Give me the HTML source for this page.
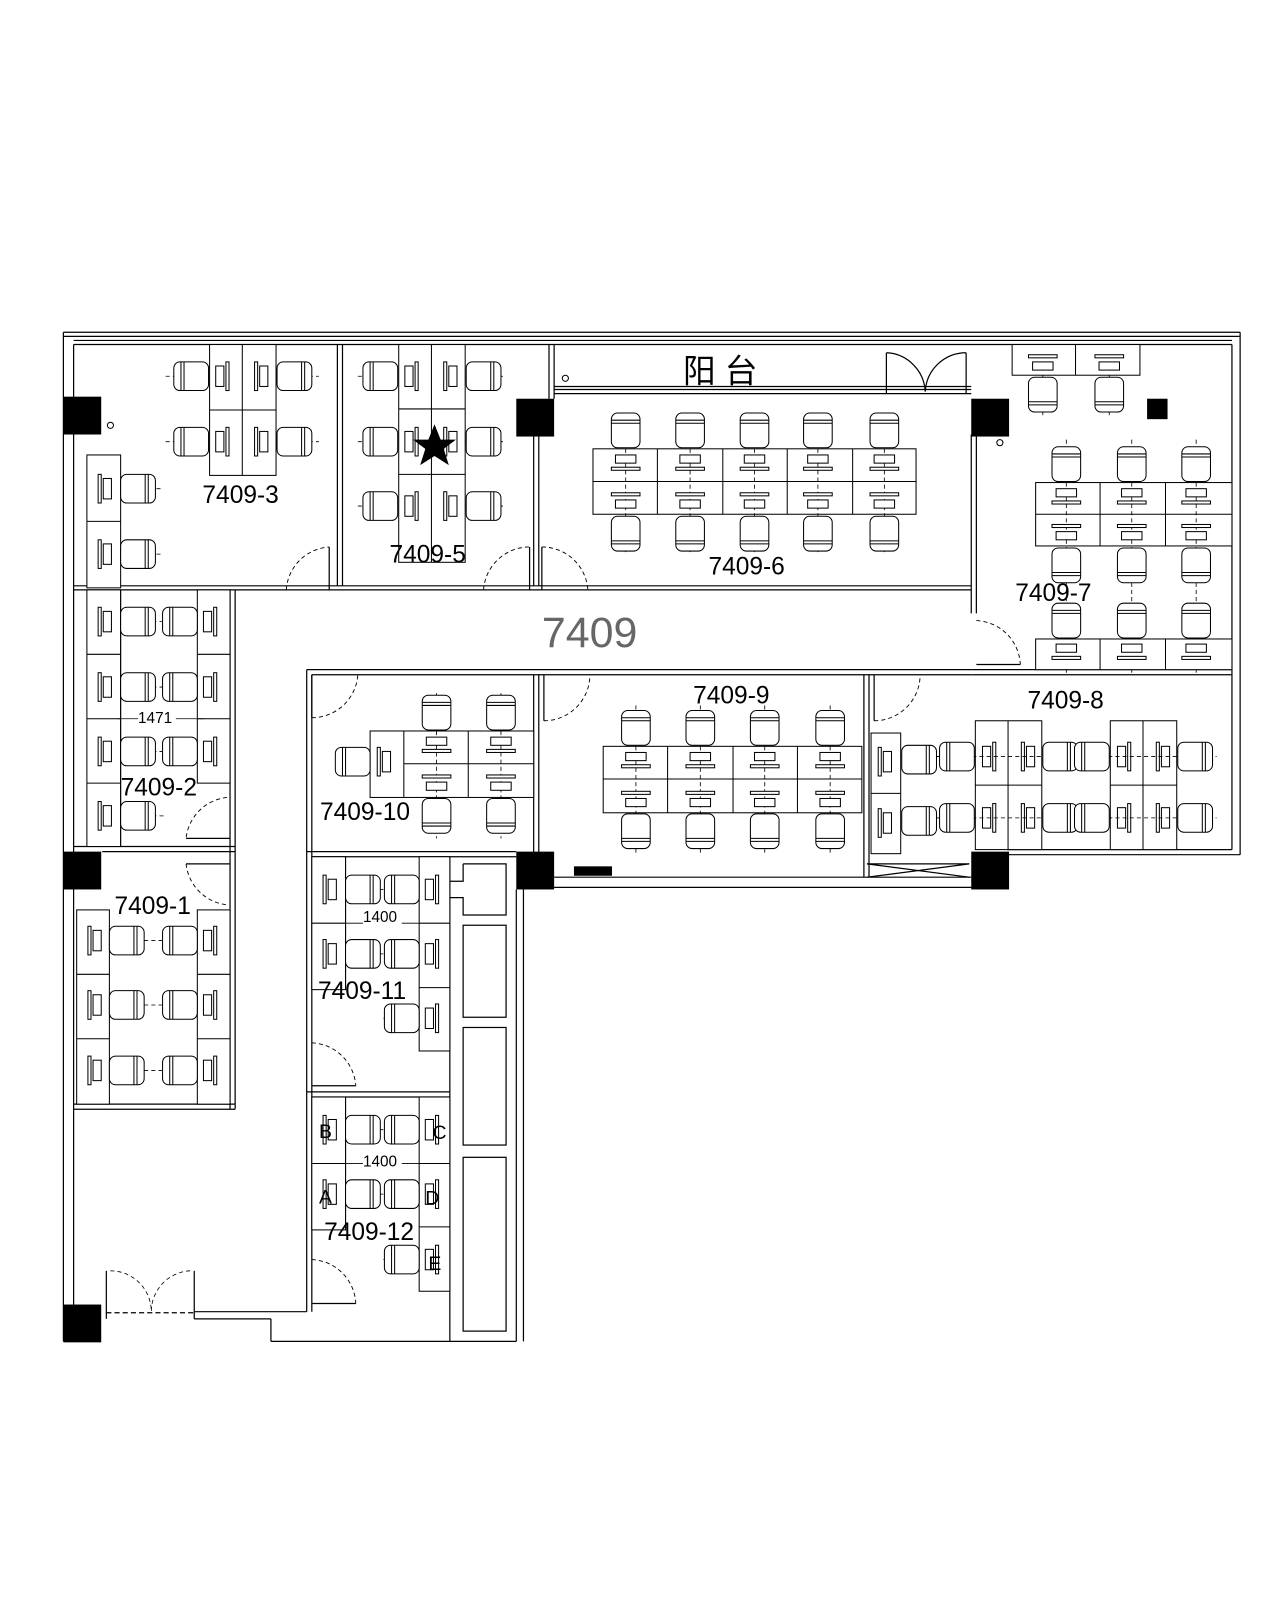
<!DOCTYPE html>
<html><head><meta charset="utf-8"><style>
html,body{margin:0;padding:0;background:#fff;width:1280px;height:1600px;overflow:hidden}
svg{display:block}
text{font-family:"Liberation Sans","Noto Sans CJK SC",sans-serif;fill:#000}
</style></head><body>
<svg width="1280" height="1600" viewBox="0 0 1252 1565" xmlns="http://www.w3.org/2000/svg">
<defs>
<g id="ch" fill="#fff" stroke="#000" stroke-width="1"><rect x="-17" y="-14" width="34" height="28" rx="6"/><line x1="7" y1="-14" x2="7" y2="14"/><line x1="10" y1="-14" x2="10" y2="14"/></g>
<g id="mv" fill="none" stroke="#000" stroke-width="1"><rect x="-4" y="-10" width="8" height="20"/><rect x="6" y="-14" width="3" height="28"/></g>
<g id="mh" fill="#fff" stroke="#000" stroke-width="1"><rect x="-10" y="-4" width="20" height="8"/><rect x="-14" y="8" width="28" height="3"/></g>
</defs>
<g fill="none" stroke="#000" stroke-width="1.2">
<line x1="62" y1="325" x2="1213" y2="325"/><line x1="62" y1="329" x2="1213" y2="329"/><line x1="72" y1="333" x2="1205" y2="333"/><line x1="72" y1="337" x2="1205" y2="337"/>
<line x1="62" y1="325" x2="62" y2="1312"/><line x1="72" y1="337" x2="72" y2="1276"/>
<line x1="1213" y1="325" x2="1213" y2="836"/><line x1="1205" y1="337" x2="1205" y2="831"/>
<line x1="985" y1="831" x2="1205" y2="831"/><line x1="985" y1="836" x2="1213" y2="836"/>
<line x1="542" y1="858" x2="950" y2="858"/><line x1="542" y1="868" x2="985" y2="868"/>
<line x1="848" y1="845" x2="948" y2="845"/><line x1="848" y1="845" x2="948" y2="858"/><line x1="848" y1="858" x2="948" y2="845"/>
<line x1="505" y1="870" x2="505" y2="1312"/><line x1="512" y1="870" x2="512" y2="1312"/>
<line x1="265" y1="1312" x2="505" y2="1312"/><line x1="265" y1="1290" x2="265" y2="1312"/><line x1="190" y1="1283" x2="300" y2="1283"/><line x1="190" y1="1290" x2="265" y2="1290"/><line x1="190" y1="1243" x2="190" y2="1290"/><line x1="104" y1="1243" x2="104" y2="1290"/>
<path d="M104 1284 H190" stroke-dasharray="5,3"/><path d="M108 1243 A40 40 0 0 1 148 1283 M186 1243 A40 40 0 0 0 148 1283" stroke-dasharray="4,3" stroke-width="0.8"/>
<line x1="72" y1="573" x2="950" y2="573"/><line x1="72" y1="577" x2="950" y2="577"/>
<line x1="330" y1="337" x2="330" y2="573"/><line x1="335" y1="337" x2="335" y2="573"/>
<line x1="522" y1="420" x2="522" y2="573"/><line x1="527" y1="420" x2="527" y2="573"/>
<line x1="537" y1="337" x2="537" y2="390"/><line x1="542" y1="337" x2="542" y2="390"/>
<line x1="542" y1="378" x2="950" y2="378"/><line x1="542" y1="381" x2="950" y2="381"/><line x1="542" y1="385" x2="950" y2="385"/>
<line x1="950" y1="425" x2="950" y2="600"/><line x1="955" y1="425" x2="955" y2="600"/>
<line x1="950" y1="655" x2="1205" y2="655"/><line x1="950" y1="660" x2="1205" y2="660"/>
<line x1="300" y1="655" x2="950" y2="655"/><line x1="305" y1="660" x2="950" y2="660"/>
<line x1="225" y1="577" x2="225" y2="1085"/><line x1="230" y1="577" x2="230" y2="1085"/>
<line x1="72" y1="1080" x2="230" y2="1080"/><line x1="72" y1="1085" x2="230" y2="1085"/>
<line x1="72" y1="828" x2="230" y2="828"/><line x1="100" y1="833" x2="230" y2="833"/>
<line x1="300" y1="655" x2="300" y2="1283"/><line x1="305" y1="660" x2="305" y2="1283"/>
<line x1="300" y1="833" x2="505" y2="833"/><line x1="305" y1="838" x2="505" y2="838"/>
<line x1="300" y1="1068" x2="440" y2="1068"/><line x1="305" y1="1073" x2="440" y2="1073"/>
<line x1="440" y1="838" x2="440" y2="1312"/>
<path d="M453 845 H495 V895 H453 V878 H440 M453 845 V862 H440"/>
<rect x="453" y="905" width="42" height="90"/><rect x="453" y="1005" width="42" height="115"/><rect x="453" y="1132" width="42" height="170"/>
<line x1="845" y1="660" x2="845" y2="858"/><line x1="850" y1="660" x2="850" y2="858"/>
<line x1="522" y1="660" x2="522" y2="838"/><line x1="527" y1="660" x2="527" y2="838"/>
<rect x="562" y="848" width="36" height="8" fill="#000"/>
</g>
<g fill="none" stroke="#000" stroke-width="0.9" stroke-dasharray="4,3">
<path d="M280 577 A45 45 0 0 1 322 535"/><path d="M473 577 A45 45 0 0 1 518 535"/><path d="M530 535 A45 45 0 0 1 575 577"/>
<path d="M955 607 A45 45 0 0 1 998 650"/><path d="M305 702 A45 45 0 0 0 350 660"/><path d="M532 705 A45 45 0 0 0 577 660"/><path d="M855 705 A45 45 0 0 0 900 660"/>
<path d="M222 780 A45 45 0 0 0 182 820"/><path d="M182 845 A45 45 0 0 0 222 885"/>
<path d="M305 1020 A45 45 0 0 1 348 1062"/><path d="M305 1232 A45 45 0 0 1 348 1275"/>
</g>
<g fill="none" stroke="#000" stroke-width="1.2">
<path d="M322 535 V577 M518 535 V577 M530 535 V577 M998 650 H955 M305 702 V660 M532 705 V660 M855 705 V660 M182 820 H225 M182 845 H225 M348 1062 H305 M348 1275 H305"/>
<path d="M867 345 V385 M945 345 V385"/><path d="M867 345 A40 40 0 0 1 905 383 M945 345 A40 40 0 0 0 905 383"/>
</g>
<g fill="#000"><rect x="62" y="388" width="37" height="37"/><rect x="505" y="390" width="37" height="37"/><rect x="950" y="390" width="37" height="37"/><rect x="62" y="833" width="37" height="37"/><rect x="505" y="833" width="37" height="37"/><rect x="950" y="833" width="37" height="37"/><rect x="62" y="1276" width="37" height="37"/><rect x="1122" y="390" width="20" height="20"/></g>
<g fill="none" stroke="#000"><circle cx="108" cy="416" r="3"/><circle cx="978" cy="433" r="3"/><circle cx="553" cy="370" r="3"/></g>

<g stroke="#000" stroke-width="0.8" stroke-dasharray="4,3" fill="none">
<path d="M162 368 H312 M162 432 H312 M118 478 H158 M118 542 H158 M350 368 H492 M350 432 H492 M350 495 H492"/>
<path d="M612 405 V540 M675 405 V540 M738 405 V540 M800 405 V540 M865 405 V540"/>
<path d="M1020 367 V408 M1085 367 V408 M1043 430 V660 M1107 430 V660 M1170 430 V660"/>
<path d="M622 690 V835 M685 690 V835 M748 690 V835 M812 690 V835"/>
<path d="M881 740 H1190 M881 800 H1190 M427 678 V820 M490 678 V820 M330 745 H390"/>
<path d="M100 608 H215 M100 672 H215 M100 735 H215 M100 798 H160 M85 920 H215 M85 983 H215 M85 1047 H215"/>
<path d="M315 870 H430 M315 933 H430 M375 996 H430 M315 1105 H430 M315 1168 H430 M375 1232 H430"/>
</g>

<g fill="#fff" stroke="#000" stroke-width="1">
<rect x="205" y="337" width="65" height="128"/><line x1="237" y1="337" x2="237" y2="465"/><line x1="205" y1="401" x2="270" y2="401"/>
<rect x="85" y="445" width="33" height="130"/><line x1="85" y1="510" x2="118" y2="510"/>
<rect x="390" y="337" width="65" height="213"/><line x1="422" y1="337" x2="422" y2="550"/><line x1="390" y1="400" x2="455" y2="400"/><line x1="390" y1="464" x2="455" y2="464"/>
<rect x="580" y="439" width="316" height="64"/><line x1="580" y1="471" x2="896" y2="471"/><line x1="643" y1="439" x2="643" y2="503"/><line x1="707" y1="439" x2="707" y2="503"/><line x1="770" y1="439" x2="770" y2="503"/><line x1="834" y1="439" x2="834" y2="503"/>
<rect x="990" y="337" width="125" height="30"/><line x1="1052" y1="337" x2="1052" y2="367"/>
<rect x="1013" y="472" width="192" height="62"/><line x1="1013" y1="503" x2="1205" y2="503"/><line x1="1076" y1="472" x2="1076" y2="534"/><line x1="1140" y1="472" x2="1140" y2="534"/>
<rect x="1013" y="625" width="192" height="30"/><line x1="1076" y1="625" x2="1076" y2="655"/><line x1="1140" y1="625" x2="1140" y2="655"/>
<rect x="590" y="730" width="253" height="65"/><line x1="590" y1="762" x2="843" y2="762"/><line x1="653" y1="730" x2="653" y2="795"/><line x1="717" y1="730" x2="717" y2="795"/><line x1="780" y1="730" x2="780" y2="795"/>
<rect x="852" y="717" width="29" height="118"/><line x1="852" y1="776" x2="881" y2="776"/>
<rect x="954" y="705" width="65" height="126"/><line x1="986" y1="705" x2="986" y2="831"/><line x1="954" y1="768" x2="1019" y2="768"/>
<rect x="1086" y="705" width="65" height="126"/><line x1="1118" y1="705" x2="1118" y2="831"/><line x1="1086" y1="768" x2="1151" y2="768"/>
<rect x="362" y="715" width="160" height="65"/><line x1="395" y1="715" x2="395" y2="780"/><line x1="458" y1="715" x2="458" y2="780"/><line x1="395" y1="747" x2="522" y2="747"/>
<rect x="85" y="577" width="33" height="251"/><line x1="85" y1="640" x2="118" y2="640"/><line x1="85" y1="703" x2="118" y2="703"/><line x1="85" y1="766" x2="118" y2="766"/>
<rect x="193" y="577" width="32" height="189"/><line x1="193" y1="640" x2="225" y2="640"/><line x1="193" y1="703" x2="225" y2="703"/>
<line x1="118" y1="577" x2="118" y2="828"/><line x1="115" y1="703" x2="135" y2="703" stroke-width="0.8"/><line x1="172" y1="703" x2="200" y2="703" stroke-width="0.8"/>
<rect x="75" y="890" width="32" height="190"/><line x1="75" y1="953" x2="107" y2="953"/><line x1="75" y1="1016" x2="107" y2="1016"/>
<rect x="193" y="890" width="32" height="190"/><line x1="193" y1="953" x2="225" y2="953"/><line x1="193" y1="1016" x2="225" y2="1016"/>
<rect x="305" y="838" width="33" height="130"/><line x1="305" y1="903" x2="338" y2="903"/>
<rect x="410" y="838" width="30" height="190"/><line x1="410" y1="903" x2="440" y2="903"/><line x1="410" y1="966" x2="440" y2="966"/>
<line x1="338" y1="838" x2="338" y2="968"/><line x1="338" y1="903" x2="355" y2="903" stroke-width="0.8"/><line x1="393" y1="903" x2="410" y2="903" stroke-width="0.8"/>
<rect x="305" y="1073" width="33" height="130"/><line x1="305" y1="1138" x2="338" y2="1138"/>
<rect x="410" y="1073" width="30" height="190"/><line x1="410" y1="1138" x2="440" y2="1138"/><line x1="410" y1="1200" x2="440" y2="1200"/>
<line x1="338" y1="1073" x2="338" y2="1203"/><line x1="338" y1="1138" x2="355" y2="1138" stroke-width="0.8"/><line x1="393" y1="1138" x2="410" y2="1138" stroke-width="0.8"/>
</g>
<g stroke="#000" stroke-width="0.8" stroke-dasharray="4,3" fill="none">
<path d="M612 439 V503 M675 439 V503 M738 439 V503 M800 439 V503 M865 439 V503 M1043 472 V534 M1107 472 V534 M1170 472 V534 M622 730 V795 M685 730 V795 M748 730 V795 M812 730 V795 M881 740 H1151 M881 800 H1151 M427 715 V780 M490 715 V780"/>
</g>

<g>
<use href="#ch" transform="translate(187,368) scale(-1,1)"/><use href="#ch" transform="translate(187,432) scale(-1,1)"/><use href="#ch" transform="translate(288,368)"/><use href="#ch" transform="translate(288,432)"/>
<use href="#ch" transform="translate(135,478)"/><use href="#ch" transform="translate(135,542)"/>
<use href="#ch" transform="translate(372,368) scale(-1,1)"/><use href="#ch" transform="translate(372,432) scale(-1,1)"/><use href="#ch" transform="translate(372,495) scale(-1,1)"/>
<use href="#ch" transform="translate(473,368)"/><use href="#ch" transform="translate(473,432)"/><use href="#ch" transform="translate(473,495)"/>
<use href="#ch" transform="translate(612,421) rotate(-90)"/><use href="#ch" transform="translate(675,421) rotate(-90)"/><use href="#ch" transform="translate(738,421) rotate(-90)"/><use href="#ch" transform="translate(800,421) rotate(-90)"/><use href="#ch" transform="translate(865,421) rotate(-90)"/>
<use href="#ch" transform="translate(612,522) rotate(90)"/><use href="#ch" transform="translate(675,522) rotate(90)"/><use href="#ch" transform="translate(738,522) rotate(90)"/><use href="#ch" transform="translate(800,522) rotate(90)"/><use href="#ch" transform="translate(865,522) rotate(90)"/>
<use href="#ch" transform="translate(1020,386) rotate(90)"/><use href="#ch" transform="translate(1085,386) rotate(90)"/>
<use href="#ch" transform="translate(1043,454) rotate(-90)"/><use href="#ch" transform="translate(1107,454) rotate(-90)"/><use href="#ch" transform="translate(1170,454) rotate(-90)"/>
<use href="#ch" transform="translate(1043,553) rotate(90)"/><use href="#ch" transform="translate(1107,553) rotate(90)"/><use href="#ch" transform="translate(1170,553) rotate(90)"/>
<use href="#ch" transform="translate(1043,607) rotate(-90)"/><use href="#ch" transform="translate(1107,607) rotate(-90)"/><use href="#ch" transform="translate(1170,607) rotate(-90)"/>
<use href="#ch" transform="translate(622,712) rotate(-90)"/><use href="#ch" transform="translate(685,712) rotate(-90)"/><use href="#ch" transform="translate(748,712) rotate(-90)"/><use href="#ch" transform="translate(812,712) rotate(-90)"/>
<use href="#ch" transform="translate(622,813) rotate(90)"/><use href="#ch" transform="translate(685,813) rotate(90)"/><use href="#ch" transform="translate(748,813) rotate(90)"/><use href="#ch" transform="translate(812,813) rotate(90)"/>
<use href="#ch" transform="translate(899,743)"/><use href="#ch" transform="translate(899,803)"/><use href="#ch" transform="translate(936,740) scale(-1,1)"/><use href="#ch" transform="translate(936,800) scale(-1,1)"/>
<use href="#ch" transform="translate(1037,740)"/><use href="#ch" transform="translate(1037,800)"/><use href="#ch" transform="translate(1068,740) scale(-1,1)"/><use href="#ch" transform="translate(1068,800) scale(-1,1)"/>
<use href="#ch" transform="translate(1169,740)"/><use href="#ch" transform="translate(1169,800)"/>
<use href="#ch" transform="translate(427,697) rotate(-90)"/><use href="#ch" transform="translate(490,697) rotate(-90)"/><use href="#ch" transform="translate(427,798) rotate(90)"/><use href="#ch" transform="translate(490,798) rotate(90)"/><use href="#ch" transform="translate(345,745) scale(-1,1)"/>
<use href="#ch" transform="translate(135,608)"/><use href="#ch" transform="translate(176,608) scale(-1,1)"/><use href="#ch" transform="translate(135,672)"/><use href="#ch" transform="translate(176,672) scale(-1,1)"/><use href="#ch" transform="translate(135,735)"/><use href="#ch" transform="translate(176,735) scale(-1,1)"/><use href="#ch" transform="translate(135,798)"/>
<use href="#ch" transform="translate(124,920)"/><use href="#ch" transform="translate(176,920) scale(-1,1)"/><use href="#ch" transform="translate(124,983)"/><use href="#ch" transform="translate(176,983) scale(-1,1)"/><use href="#ch" transform="translate(124,1047)"/><use href="#ch" transform="translate(176,1047) scale(-1,1)"/>
<use href="#ch" transform="translate(355,870)"/><use href="#ch" transform="translate(393,870) scale(-1,1)"/><use href="#ch" transform="translate(355,933)"/><use href="#ch" transform="translate(393,933) scale(-1,1)"/><use href="#ch" transform="translate(393,996) scale(-1,1)"/>
<use href="#ch" transform="translate(355,1105)"/><use href="#ch" transform="translate(393,1105) scale(-1,1)"/><use href="#ch" transform="translate(355,1168)"/><use href="#ch" transform="translate(393,1168) scale(-1,1)"/><use href="#ch" transform="translate(393,1232) scale(-1,1)"/>
</g>

<g>
<use href="#mv" transform="translate(215,368)"/><use href="#mv" transform="translate(215,432)"/><use href="#mv" transform="translate(258,368) scale(-1,1)"/><use href="#mv" transform="translate(258,432) scale(-1,1)"/>
<use href="#mv" transform="translate(105,478) scale(-1,1)"/><use href="#mv" transform="translate(105,542) scale(-1,1)"/>
<use href="#mv" transform="translate(400,368)"/><use href="#mv" transform="translate(400,432)"/><use href="#mv" transform="translate(400,495)"/><use href="#mv" transform="translate(443,368) scale(-1,1)"/><use href="#mv" transform="translate(443,432) scale(-1,1)"/><use href="#mv" transform="translate(443,495) scale(-1,1)"/>
<use href="#mh" transform="translate(612,449)"/><use href="#mh" transform="translate(675,449)"/><use href="#mh" transform="translate(738,449)"/><use href="#mh" transform="translate(800,449)"/><use href="#mh" transform="translate(865,449)"/>
<use href="#mh" transform="translate(612,493) scale(1,-1)"/><use href="#mh" transform="translate(675,493) scale(1,-1)"/><use href="#mh" transform="translate(738,493) scale(1,-1)"/><use href="#mh" transform="translate(800,493) scale(1,-1)"/><use href="#mh" transform="translate(865,493) scale(1,-1)"/>
<use href="#mh" transform="translate(1020,358) scale(1,-1)"/><use href="#mh" transform="translate(1085,358) scale(1,-1)"/>
<use href="#mh" transform="translate(1043,482)"/><use href="#mh" transform="translate(1107,482)"/><use href="#mh" transform="translate(1170,482)"/>
<use href="#mh" transform="translate(1043,524) scale(1,-1)"/><use href="#mh" transform="translate(1107,524) scale(1,-1)"/><use href="#mh" transform="translate(1170,524) scale(1,-1)"/>
<use href="#mh" transform="translate(1043,634)"/><use href="#mh" transform="translate(1107,634)"/><use href="#mh" transform="translate(1170,634)"/>
<use href="#mh" transform="translate(622,740)"/><use href="#mh" transform="translate(685,740)"/><use href="#mh" transform="translate(748,740)"/><use href="#mh" transform="translate(812,740)"/>
<use href="#mh" transform="translate(622,785) scale(1,-1)"/><use href="#mh" transform="translate(685,785) scale(1,-1)"/><use href="#mh" transform="translate(748,785) scale(1,-1)"/><use href="#mh" transform="translate(812,785) scale(1,-1)"/>
<use href="#mh" transform="translate(427,725)"/><use href="#mh" transform="translate(490,725)"/><use href="#mh" transform="translate(427,769) scale(1,-1)"/><use href="#mh" transform="translate(490,769) scale(1,-1)"/><use href="#mv" transform="translate(378,745) scale(-1,1)"/>
<use href="#mv" transform="translate(868,745) scale(-1,1)"/><use href="#mv" transform="translate(868,805) scale(-1,1)"/>
<use href="#mv" transform="translate(965,740)"/><use href="#mv" transform="translate(965,800)"/><use href="#mv" transform="translate(1008,740) scale(-1,1)"/><use href="#mv" transform="translate(1008,800) scale(-1,1)"/>
<use href="#mv" transform="translate(1097,740)"/><use href="#mv" transform="translate(1097,800)"/><use href="#mv" transform="translate(1140,740) scale(-1,1)"/><use href="#mv" transform="translate(1140,800) scale(-1,1)"/>
<use href="#mv" transform="translate(105,608) scale(-1,1)"/><use href="#mv" transform="translate(105,672) scale(-1,1)"/><use href="#mv" transform="translate(105,735) scale(-1,1)"/><use href="#mv" transform="translate(105,798) scale(-1,1)"/>
<use href="#mv" transform="translate(203,608)"/><use href="#mv" transform="translate(203,672)"/><use href="#mv" transform="translate(203,735)"/>
<use href="#mv" transform="translate(95,920) scale(-1,1)"/><use href="#mv" transform="translate(95,983) scale(-1,1)"/><use href="#mv" transform="translate(95,1047) scale(-1,1)"/>
<use href="#mv" transform="translate(203,920)"/><use href="#mv" transform="translate(203,983)"/><use href="#mv" transform="translate(203,1047)"/>
<use href="#mv" transform="translate(325,870) scale(-1,1)"/><use href="#mv" transform="translate(325,933) scale(-1,1)"/><use href="#mv" transform="translate(420,870)"/><use href="#mv" transform="translate(420,933)"/><use href="#mv" transform="translate(420,996)"/>
<use href="#mv" transform="translate(325,1105) scale(-1,1)"/><use href="#mv" transform="translate(325,1168) scale(-1,1)"/><use href="#mv" transform="translate(420,1105)"/><use href="#mv" transform="translate(420,1168)"/><use href="#mv" transform="translate(420,1232)"/>
</g>

<polygon points="425,415 431,430 446,430 434,439 439,455 425,446 411,455 416,439 404,430 419,430" fill="#000"/>

<g font-size="24">
<text x="198" y="492">7409-3</text>
<text x="381" y="550">7409-5</text>
<text x="693" y="562">7409-6</text>
<text x="993" y="588">7409-7</text>
<text x="678" y="688">7409-9</text>
<text x="1005" y="693">7409-8</text>
<text x="313" y="802">7409-10</text>
<text x="118" y="778">7409-2</text>
<text x="112" y="894">7409-1</text>
<text x="311" y="977">7409-11</text>
<text x="317" y="1213">7409-12</text>
</g>
<text x="530" y="633" font-size="42" style="fill:#666">7409</text>
<text x="668" y="374" font-size="32">阳 台</text>
<g font-size="15"><text x="135" y="707">1471</text><text x="355" y="902">1400</text><text x="355" y="1141">1400</text></g>
<g font-size="19"><text x="312" y="1113">B</text><text x="423" y="1114">C</text><text x="312" y="1177">A</text><text x="416" y="1178">D</text><text x="419" y="1242">E</text></g>
</svg>
</body></html>
